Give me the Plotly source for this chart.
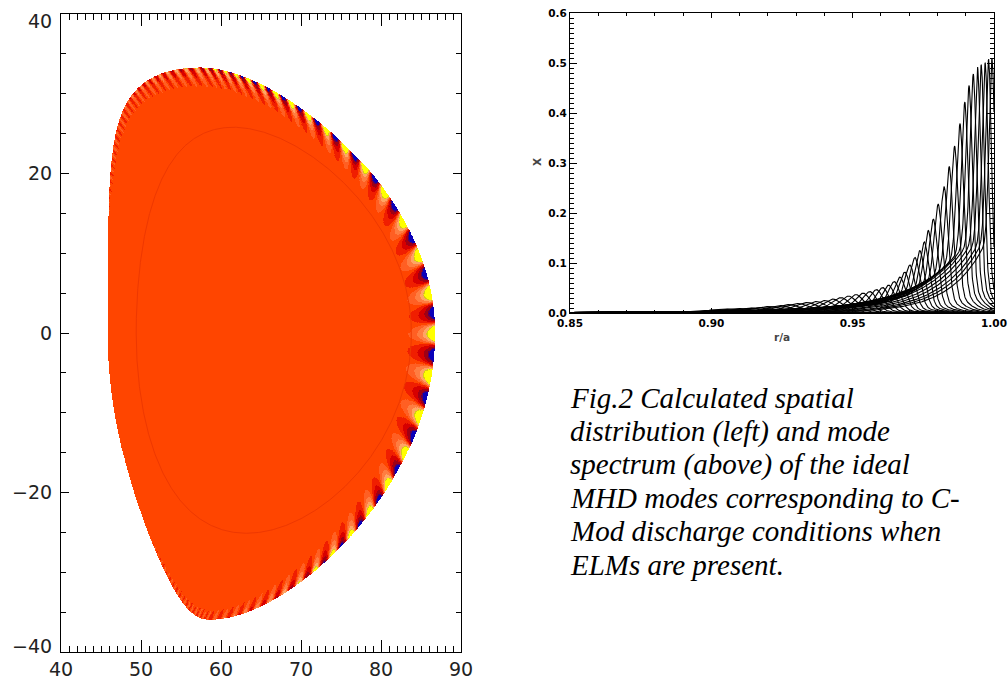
import numpy as np
import plotly.graph_objects as go

FW, FH = 1008, 691


def fx(p):
    return p / FW


def fy(p):
    return 1 - p / FH


# ---------------- right panel: mode spectrum ----------------
peak_r = [0.9058, 0.9097, 0.9135, 0.9172, 0.9208, 0.9243, 0.9277, 0.9310, 0.9342, 0.9373,
          0.9403, 0.9432, 0.9460, 0.9487, 0.9513, 0.9538, 0.9562, 0.9585, 0.9607, 0.9628,
          0.9648, 0.9668, 0.9685, 0.9703, 0.9721, 0.9738, 0.9754, 0.9768, 0.9786, 0.9803,
          0.9824, 0.9842, 0.9861, 0.9880, 0.9897, 0.9912, 0.9927, 0.9942, 0.9955, 0.9969,
          0.9981, 0.9993]
peak_amp = [0.008, 0.009, 0.010, 0.011, 0.013, 0.015, 0.017, 0.019, 0.021, 0.023,
            0.025, 0.028, 0.031, 0.034, 0.037, 0.040, 0.043, 0.047, 0.051, 0.056,
            0.063, 0.072, 0.082, 0.096, 0.111, 0.125, 0.142, 0.165, 0.188, 0.218,
            0.253, 0.293, 0.334, 0.379, 0.422, 0.455, 0.478, 0.492, 0.497, 0.501,
            0.508, 0.510]
x_ticks_right = [0.85, 0.90, 0.95, 1.00]
x_ticklabels_right = ["0.85", "0.90", "0.95", "1.00"]
y_ticks_right = [0.0, 0.1, 0.2, 0.3, 0.4, 0.5, 0.6]
y_ticklabels_right = ["0.0", "0.1", "0.2", "0.3", "0.4", "0.5", "0.6"]

# ---------------- left panel: boundary shape and mode structure parameters ----------------
R_axis, a_minor = 66.3, 20.4
kappa_upper, kappa_lower = 1.63, 1.76
delta_upper, delta_lower = 0.45, 0.39
square_upper, square_lower = 0.20, -0.22   # inboard squareness
m_poloidal = 111
theta_star_alpha = 0.63
decay_factor, k_cap = 0.85, 1.5
balloon_upper = (1.6, 2.4, 0.2)   # main width, wide width, wide weight
balloon_lower = (1.05, 2.2, 0.15)
inner_R0, inner_a = 66.6, 17.2
inner_kappa_upper, inner_kappa_lower = 1.50, 1.46
inner_delta_upper, inner_delta_lower = 0.30, 0.20
x_ticks_left = [40, 50, 60, 70, 80, 90]
y_ticks_left = [-40, -20, 0, 20, 40]
y_ticklabels_left = ["\u221240", "\u221220", "0", "20", "40"]
y_ticklabel_shift = [6, 0, 0, 0, -7]

# contour levels and fill colours of the left panel
levels = [-1.0, -0.60, -0.50, -0.30, -0.14, -0.04, 0.04, 0.12, 0.24, 0.38, 0.44, 1.0]
level_colors = ["rgb(10,0,185)", "rgb(90,0,90)", "rgb(160,0,20)", "rgb(215,0,0)",
                "rgb(240,30,0)", "rgb(255,69,0)", "rgb(255,95,35)", "rgb(255,125,65)",
                "rgb(255,165,100)", "rgb(215,205,20)", "rgb(255,255,0)"]


def shape_arg(th, dlt, sq):
    inboard = np.abs(th) > np.pi / 2
    return th + dlt * np.sin(th) - np.where(inboard, sq, 0.0) * np.sin(2 * th)


# ---------- build the left field on a pixel grid ----------
rho = np.linspace(0, 1, 430)[1:]
theta = np.linspace(-np.pi, np.pi, 4400, endpoint=False)
up_t = theta >= 0
kap_b = np.where(up_t, kappa_upper, kappa_lower)
dlt_b = np.where(up_t, delta_upper, delta_lower)
sq_b = np.where(up_t, square_upper, square_lower)
arg_b = shape_arg(theta, dlt_b, sq_b)
Rb = R_axis + a_minor * np.cos(arg_b)
Zb = kap_b * a_minor * np.sin(theta)
dl_dth = np.hypot(np.gradient(Rb, theta), np.gradient(Zb, theta))
k_local = m_poloidal * (1 - theta_star_alpha * np.cos(theta)) / dl_dth
k_eff = decay_factor * np.minimum(k_local, k_cap)
h = a_minor * np.hypot(np.cos(arg_b), kap_b * np.sin(theta))
bw = np.where(up_t, balloon_upper[0], balloon_lower[0])
bw2 = np.where(up_t, balloon_upper[1], balloon_lower[1])
bwt = np.where(up_t, balloon_upper[2], balloon_lower[2])
balloon = (1 - bwt) * np.exp(-(theta / bw) ** 4) + bwt * np.exp(-(theta / bw2) ** 4)
th_star = theta - theta_star_alpha * np.sin(theta)

RH, TH = np.meshgrid(rho, theta, indexing="ij")
up = TH >= 0
kap = np.where(up, kappa_upper, kappa_lower) * (0.85 + 0.15 * RH ** 2)
dlt = np.where(up, delta_upper, delta_lower) * RH ** 2
sq = np.where(up, square_upper, square_lower) * RH ** 2
Rs = R_axis + a_minor * RH * np.cos(shape_arg(TH, dlt, sq))
Zs = kap * a_minor * RH * np.sin(TH)
depth = (1 - RH) * h[None, :]
F = np.exp(-depth * k_eff[None, :]) * (balloon * np.cos(m_poloidal * th_star))[None, :]

dx = 0.125
R_lo, Z_lo = 45.0, -37.0
nR, nZ = int(43 / dx), int(72 / dx)
grid = np.full((nZ, nR), np.nan)
ii = np.floor((Rs - R_lo) / dx).astype(int).ravel()
jj = np.floor((Zs - Z_lo) / dx).astype(int).ravel()
ok = (ii >= 0) & (ii < nR) & (jj >= 0) & (jj < nZ)
grid[jj[ok], ii[ok]] = F.ravel()[ok]
xc = R_lo + (np.arange(nR) + 0.5) * dx
yc = Z_lo + (np.arange(nZ) + 0.5) * dx
zlist = [[None if np.isnan(v) else round(float(v), 3) for v in row] for row in grid]

cs = []
for k, col in enumerate(level_colors):
    cs.append([(levels[k] + 1) / 2, col])
    cs.append([(levels[k + 1] + 1) / 2, col])

fig = go.Figure()
fig.add_trace(go.Heatmap(x=xc, y=yc, z=zlist, zmin=-1, zmax=1, colorscale=cs,
                         zsmooth=False, showscale=False, hoverinfo="skip",
                         xaxis="x", yaxis="y"))

# faint inner contour
tl = np.linspace(-np.pi, np.pi, 721)
upl = tl >= 0
kl = np.where(upl, inner_kappa_upper, inner_kappa_lower)
dl = np.where(upl, inner_delta_upper, inner_delta_lower)
fig.add_trace(go.Scatter(x=inner_R0 + inner_a * np.cos(tl + dl * np.sin(tl)),
                         y=kl * inner_a * np.sin(tl), mode="lines",
                         line=dict(color="rgb(238,56,0)", width=1),
                         hoverinfo="skip", showlegend=False, xaxis="x", yaxis="y"))

# ---------- right panel curves ----------
r_grid = np.linspace(0.85, 1.0, 1501)
xs, ys = [], []
for rk, ak in zip(peak_r, peak_amp):
    u = 1 - rk
    s = 0.0010 + 0.012 * u + 0.5 * u ** 2
    L_in = 0.012 + 0.5 * u
    L_out = 0.003 + 0.05 * u
    d = r_grid - rk
    core = np.exp(-0.5 * (d / s) ** 2)
    frac = np.where(d < 0, 0.33, 0.22)
    tail = np.where(d < 0, np.exp(d / L_in), np.exp(-d / L_out))
    prof = ak * ((1 - frac) * core + frac * tail)
    xs += list(r_grid) + [None]
    ys += list(prof) + [None]
fig.add_trace(go.Scatter(x=xs, y=ys, mode="lines", line=dict(color="black", width=1.1),
                         hoverinfo="skip", showlegend=False, xaxis="x2", yaxis="y2"))

left_font = dict(family="DejaVu Sans", size=19, color="#222")
right_font = dict(family="DejaVu Sans", size=10.5, color="black", weight="bold")

fig.update_layout(
    template="none",
    width=FW, height=FH, margin=dict(l=0, r=0, t=0, b=0, autoexpand=False),
    paper_bgcolor="white", plot_bgcolor="white", showlegend=False,
    xaxis=dict(domain=[fx(61), fx(461)], range=[40, 90], anchor="y", automargin=False,
               tickvals=x_ticks_left, ticks="inside", ticklen=12, tickwidth=1,
               tickcolor="black", showline=True, linecolor="black", linewidth=1.2,
               mirror="ticks", showgrid=False, zeroline=False, tickfont=left_font,
               ticklabeloverflow="allow",
               minor=dict(dtick=1, ticklen=6, ticks="inside", tickcolor="black", showgrid=False)),
    yaxis=dict(domain=[fy(652), fy(14)], range=[-40, 40], anchor="x", automargin=False,
               tickvals=y_ticks_left, showticklabels=False,
               ticks="inside", ticklen=8, tickwidth=1,
               tickcolor="black", showline=True, linecolor="black", linewidth=1.2,
               mirror="ticks", showgrid=False, zeroline=False,
               minor=dict(dtick=5, ticklen=5, ticks="inside", tickcolor="black", showgrid=False)),
    xaxis2=dict(domain=[fx(570), fx(994)], range=[0.85, 1.0], anchor="y2", automargin=False,
                tickvals=x_ticks_right, ticktext=x_ticklabels_right,
                ticks="inside", ticklen=5, tickwidth=1, tickcolor="black",
                showline=True, linecolor="black", linewidth=1, mirror="ticks",
                showgrid=False, zeroline=False, tickfont=right_font,
                ticklabeloverflow="allow",
                minor=dict(dtick=0.01, ticklen=3, ticks="inside", tickcolor="black", showgrid=False)),
    yaxis2=dict(domain=[fy(313), fy(13)], range=[0, 0.6], anchor="x2", automargin=False,
                tickvals=y_ticks_right, ticktext=y_ticklabels_right,
                ticks="inside", ticklen=7, tickwidth=1, tickcolor="black",
                showline=True, linecolor="black", linewidth=1, mirror="ticks",
                showgrid=False, zeroline=False, tickfont=right_font,
                ticklabeloverflow="allow",
                minor=dict(dtick=0.01, ticklen=4, ticks="inside", tickcolor="black", showgrid=False)),
)

# left y tick labels (end labels pulled inward, as in the reference)
for v, txt, sh in zip(y_ticks_left, y_ticklabels_left, y_ticklabel_shift):
    fig.add_annotation(text=txt, x=fx(54), y=v, xref="paper", yref="y", yshift=sh,
                       showarrow=False, xanchor="right", yanchor="middle", font=left_font)

# axis titles of right panel
fig.add_annotation(text="r/a", x=fx(782), y=fy(337), xref="paper", yref="paper",
                   showarrow=False, font=dict(family="DejaVu Sans", size=10.5, weight="bold"),
                   xanchor="center", yanchor="middle")
fig.add_annotation(text="X", x=fx(537), y=fy(162), xref="paper", yref="paper",
                   showarrow=False, textangle=-90,
                   font=dict(family="DejaVu Sans", size=10.5, weight="bold"),
                   xanchor="center", yanchor="middle")

# caption
caption_lines = ["Fig.2 Calculated spatial", "distribution (left) and mode",
                 "spectrum (above) of the ideal", "MHD modes corresponding to C-",
                 "Mod discharge conditions when", "ELMs are present."]
baselines = [407.3, 441.0, 474.3, 507.7, 541.0, 574.3]
for txt, b in zip(caption_lines, baselines):
    fig.add_annotation(text=txt, x=fx(568), y=fy(b - 9.8), xref="paper", yref="paper",
                       showarrow=False, xanchor="left", yanchor="middle",
                       font=dict(family="Liberation Serif", size=29, style="italic",
                                 color="black"))

fig.write_html("out.html", config={"displayModeBar": False},
               post_script="document.body.style.margin='0';"
                           "document.documentElement.style.overflow='hidden';")
